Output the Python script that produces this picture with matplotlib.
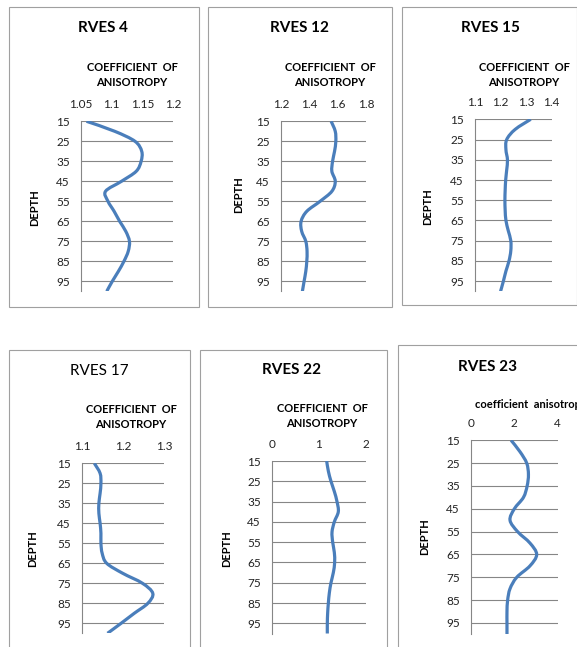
import numpy as np
import matplotlib
matplotlib.use("Agg")
import matplotlib.pyplot as plt
from matplotlib.path import Path
from matplotlib.patches import PathPatch, Rectangle

plt.rcParams['font.family'] = ['Lato', 'DejaVu Sans']

# depth readings (m) shared by all soundings
depth = [15, 20, 25, 30, 35, 40, 45, 50, 55, 60, 65, 70, 75, 80, 85, 90, 95, 100]

# coefficient of anisotropy per sounding
rves4 = [1.059, 1.105, 1.138, 1.149, 1.148, 1.140, 1.116, 1.090, 1.094,
         1.104, 1.113, 1.123, 1.129, 1.127, 1.120, 1.111, 1.101, 1.092]
rves12 = [1.554, 1.583, 1.587, 1.578, 1.564, 1.559, 1.583, 1.559, 1.476,
          1.382, 1.342, 1.346, 1.375, 1.384, 1.382, 1.375, 1.363, 1.351]
rves15 = [1.318, 1.257, 1.224, 1.221, 1.227, 1.224, 1.220, 1.218, 1.217,
          1.218, 1.221, 1.230, 1.240, 1.240, 1.233, 1.221, 1.211, 1.200]
rves17 = [1.130, 1.144, 1.146, 1.144, 1.141, 1.141, 1.144, 1.146, 1.146,
          1.149, 1.160, 1.199, 1.247, 1.272, 1.260, 1.227, 1.195, 1.162]
rves22 = [1.163, 1.199, 1.255, 1.326, 1.383, 1.411, 1.326, 1.277, 1.291,
          1.326, 1.333, 1.305, 1.255, 1.220, 1.199, 1.184, 1.177, 1.177]
rves23 = [1.85, 2.26, 2.57, 2.65, 2.59, 2.42, 2.00, 1.80, 2.15,
          2.72, 3.03, 2.72, 2.11, 1.80, 1.69, 1.66, 1.66, 1.66]

depth_ticks = [15, 25, 35, 45, 55, 65, 75, 85, 95]
ticks4, labels4 = [1.05, 1.1, 1.15, 1.2], ['1.05', '1.1', '1.15', '1.2']
ticks12, labels12 = [1.2, 1.4, 1.6, 1.8], ['1.2', '1.4', '1.6', '1.8']
ticks15, labels15 = [1.1, 1.2, 1.3, 1.4], ['1.1', '1.2', '1.3', '1.4']
ticks17, labels17 = [1.1, 1.2, 1.3], ['1.1', '1.2', '1.3']
ticks22, labels22 = [0, 1, 2], ['0', '1', '2']
ticks23, labels23 = [0, 2, 4], ['0', '2', '4']

W, H = 577, 647
LINE = '#4a7ebb'
GRID = '#868686'


def rect(l, t, r, b):
    return [l / W, 1 - b / H, (r - l) / W, (b - t) / H]


def smooth_line(ax, x, y):
    # Catmull-Rom curve through the points, like a spreadsheet "smoothed line"
    pts = np.column_stack([x, y]).astype(float)
    n = len(pts)
    verts = [pts[0]]
    codes = [Path.MOVETO]
    for i in range(n - 1):
        p0 = pts[i - 1] if i > 0 else pts[i]
        p1, p2 = pts[i], pts[i + 1]
        p3 = pts[i + 2] if i + 2 < n else pts[i + 1]
        verts += [p1 + (p2 - p0) / 6, p2 - (p3 - p1) / 6, p2]
        codes += [Path.CURVE4] * 3
    ax.add_patch(PathPatch(Path(verts, codes), fill=False, edgecolor=LINE,
                           lw=2.3, capstyle='butt', joinstyle='round'))


panels = [
    dict(title='RVES 4', bold=True, vals=rves4, ticks=ticks4, labels=labels4,
         box=(9, 7, 199, 307), axes=(81, 121.3, 173, 291.3),
         title_xy=(103, 28), xt_xy=(132, 75), depth_xy=(35, 208)),
    dict(title='RVES 12', bold=True, vals=rves12, ticks=ticks12, labels=labels12,
         box=(208, 7, 392, 307), axes=(281, 121.3, 366, 291.3),
         title_xy=(299, 28), xt_xy=(330, 75), depth_xy=(239, 195)),
    dict(title='RVES 15', bold=True, vals=rves15, ticks=ticks15, labels=labels15,
         box=(402, 7, 576.5, 305), axes=(475, 119.3, 551.7, 291.3),
         title_xy=(490, 28), xt_xy=(524, 75), depth_xy=(428, 207)),
    dict(title='RVES 17', bold=False, vals=rves17, ticks=ticks17, labels=labels17,
         box=(9, 350, 190, 700), axes=(82, 463.3, 164.3, 633.3),
         title_xy=(99, 371), xt_xy=(131, 417), depth_xy=(33, 549)),
    dict(title='RVES 22', bold=True, vals=rves22, ticks=ticks22, labels=labels22,
         box=(200, 350, 387, 700), axes=(272, 461, 366, 633.5),
         title_xy=(292, 370), xt_xy=(322, 416), depth_xy=(227, 549)),
    dict(title='RVES 23', bold=True, vals=rves23, ticks=ticks23, labels=labels23,
         box=(398, 345, 700, 700), axes=(471, 440.3, 557.7, 634.4),
         title_xy=(487, 367), xt_xy=None, depth_xy=(425, 537)),
]

fig = plt.figure(figsize=(W / 100, H / 100), dpi=100)

for p in panels:
    l, t, r, b = p['box']
    fig.patches.append(Rectangle((l / W, 1 - b / H), (r - l) / W, (b - t) / H,
                                 transform=fig.transFigure, fill=False,
                                 edgecolor='#a0a0a0', lw=0.8))

    ax = fig.add_axes(rect(*p['axes']))
    smooth_line(ax, p['vals'], depth)
    ax.set_xlim(p['ticks'][0], p['ticks'][-1])
    ax.set_ylim(100, 15)
    ax.set_xticks(p['ticks'])
    ax.set_xticklabels(p['labels'])
    ax.set_yticks(depth_ticks)
    ax.xaxis.tick_top()
    ax.tick_params(length=0, labelsize=8.5, colors='#222222', pad=8)
    ax.grid(axis='y', color=GRID, lw=0.8)
    ax.set_axisbelow(True)
    for side in ['top', 'right', 'bottom']:
        ax.spines[side].set_visible(False)
    ax.spines['left'].set_color(GRID)
    ax.spines['left'].set_linewidth(0.8)

    fig.text(p['title_xy'][0] / W, 1 - p['title_xy'][1] / H, p['title'],
             ha='center', va='center', fontsize=11,
             fontweight='bold' if p['bold'] else 'normal')
    if p['xt_xy'] is not None:
        fig.text(p['xt_xy'][0] / W, 1 - p['xt_xy'][1] / H,
                 'COEFFICIENT  OF\nANISOTROPY', ha='center', va='center',
                 multialignment='center', fontsize=8, fontweight='bold',
                 linespacing=1.45)
    fig.text(p['depth_xy'][0] / W, 1 - p['depth_xy'][1] / H, 'DEPTH',
             ha='center', va='center', rotation=90, fontsize=8,
             fontweight='bold')

# last panel uses a lower-case axis title that runs off the right edge
fig.text(475 / W, 1 - 405 / H, 'coefficient  anisotropy', ha='left',
         va='center', fontsize=8, fontweight='bold')

fig.savefig('out.png', dpi=100, facecolor='white')
